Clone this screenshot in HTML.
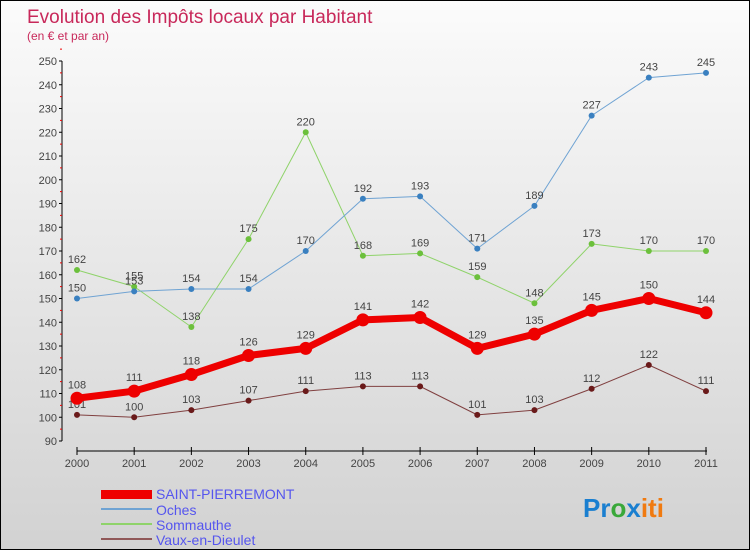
<!DOCTYPE html>
<html><head><meta charset="utf-8"><style>
body{margin:0}
#c{width:748px;height:548px;border:1px solid #000;background:linear-gradient(#fbfbfb,#d2d2d2);position:relative;font-family:"Liberation Sans",sans-serif;overflow:hidden}
</style></head><body>
<div id="c">
<svg width="748" height="548" id="s" style="position:absolute;left:0;top:0">
<text x="26" y="22" font-size="19" fill="#c8285a">Evolution des Impôts locaux par Habitant</text>
<text x="26" y="39" font-size="12" fill="#c8285a">(en € et par an)</text>
<g id="axes"></g><g id="series"></g>
<g>
<rect x="100" y="489" width="51" height="9" fill="#e00"/>
<text x="155" y="498" font-size="14" fill="#5555ee">SAINT-PIERREMONT</text>
<rect x="100" y="507" width="51" height="2" fill="#6fa3d3"/>
<text x="155" y="514" font-size="14" fill="#5555ee">Oches</text>
<rect x="100" y="522" width="51" height="2" fill="#8fd36a"/>
<text x="155" y="529" font-size="14" fill="#5555ee">Sommauthe</text>
<rect x="100" y="537" width="51" height="2" fill="#905858"/>
<text x="155" y="544" font-size="14" fill="#5555ee">Vaux-en-Dieulet</text>
</g>
<text x="582" y="516" font-size="26" font-weight="bold"><tspan fill="#1a7fd0">Pr</tspan><tspan fill="#3aa83a">o</tspan><tspan fill="#1a7fd0">x</tspan><tspan fill="#f07a10">iti</tspan></text>
</svg>
</div>
<script>
const years=[2000,2001,2002,2003,2004,2005,2006,2007,2008,2009,2010,2011];
const yTicks=[90,100,110,120,130,140,150,160,170,180,190,200,210,220,230,240,250];
const saint=[108,111,118,126,129,141,142,129,135,145,150,144];
const oches=[150,153,154,154,170,192,193,171,189,227,243,245];
const somm=[162,155,138,175,220,168,169,159,148,173,170,170];
const vaux=[101,100,103,107,111,113,113,101,103,112,122,111];
const NS="http://www.w3.org/2000/svg";
const xS=i=>76+i*(705-76)/11;
const yS=v=>440-(v-90)*380/160;
function mk(t,a,p){const e=document.createElementNS(NS,t);for(const k in a)e.setAttribute(k,a[k]);p.appendChild(e);return e;}
const ax=document.getElementById('axes');
let l=mk('line',{x1:61,y1:60,x2:61,y2:440,stroke:'#000'},ax);


yTicks.forEach(v=>{
 mk('line',{x1:58,x2:61,y1:yS(v),y2:yS(v),stroke:'#000'},ax);
 mk('line',{x1:59,x2:61,y1:yS(v+5),y2:yS(v+5),stroke:'#e00'},ax);
 const t=mk('text',{x:56,y:yS(v)+4,'font-size':11,fill:'#444','text-anchor':'end'},ax);t.textContent=v;
 
 
});
l=mk('line',{x1:76,y1:450,x2:706,y2:450,stroke:'#000'},ax);


years.forEach((y,i)=>{
 mk('line',{x1:xS(i),x2:xS(i),y1:446,y2:454,stroke:'#000'},ax);
 const t=mk('text',{x:xS(i),y:466,'font-size':11,fill:'#444','text-anchor':'middle'},ax);t.textContent=y;
 
 
});
const sg=document.getElementById('series');
function draw(data,color,dot,w,r,name,lbl){
 const g=mk('g',{},sg);
 
 
 mk('polyline',{points:data.map((v,i)=>xS(i)+','+yS(v)).join(' '),fill:'none',stroke:color,'stroke-width':w,'stroke-linejoin':'round'},g);
 data.forEach((v,i)=>{
  const c=mk('circle',{cx:xS(i),cy:yS(v),r:r,fill:dot},g);
  
  
  const t=mk('text',{x:xS(i),y:yS(v)-lbl,'font-size':11,fill:'#444','text-anchor':'middle'},g);t.textContent=v;
  
  
 });
}
draw(vaux,'#804040','#6a1a1a',1,3,'vaux-en-dieulet',7);
draw(somm,'#8fd36a','#6cc03c',1,3,'sommauthe',7);
draw(oches,'#6fa3d3','#3a80c0',1,3,'oches',7);
draw(saint,'#e00','#e00',7,6.5,'saint-pierremont',10);
</script>
</body></html>
